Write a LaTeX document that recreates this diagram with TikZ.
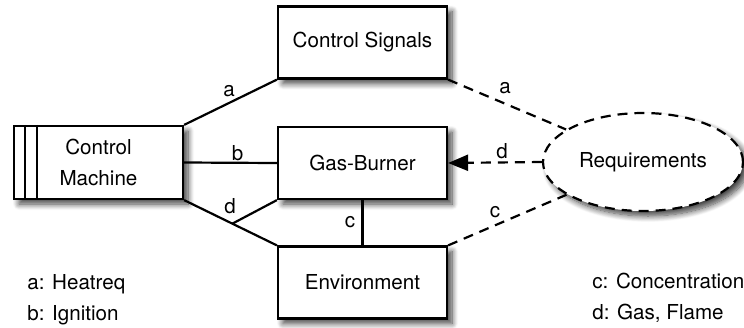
\documentclass[tikz,border=0pt]{standalone}
\usepackage{fontspec}
\setmainfont{TeX Gyre Heros}
\usetikzlibrary{shapes.geometric,shadows,shadows.blur,calc,arrows.meta}
\begin{document}
\begin{tikzpicture}[x=0.5pt,y=-0.5pt,
  txt/.style={font=\fontsize{10.3}{15.5}\selectfont},
  shad/.style={blur shadow={shadow xshift=2.5pt,shadow yshift=-2.5pt,shadow blur radius=3pt,shadow blur steps=10,shadow opacity=75}},
  box/.style={draw,line width=1.1pt,fill=white,minimum width=84.5pt,minimum height=36pt,inner sep=0pt,txt,shad},
  req/.style={ellipse,draw,dash pattern=on 5pt off 3.5pt,line width=1.1pt,fill=white,minimum width=100pt,minimum height=49pt,inner sep=0pt,txt,shad},
  conn/.style={line width=1.1pt},
  dconn/.style={line width=1.1pt,dash pattern=on 5pt off 3.5pt},
  lab/.style={inner sep=0pt,font=\fontsize{10.3}{12}\selectfont},
  leg/.style={inner sep=0pt,anchor=base west,font=\fontsize{10.3}{12}\selectfont}
]
\useasboundingbox (0,0) rectangle (744,327);

\node[box] (CS) at (362.5,42.5) {Control Signals};
\node[box] (GB) at (362.5,163) {Gas-Burner};
\node[box] (Env) at (362.5,282.5) {Environment};
\node[box,minimum height=36.5pt,align=center] (CM) at (98.5,162.5) {Control\\Machine};
\draw[conn] ($(CM.north west)+(12,0)$) coordinate (s1t) -- ($(CM.south west)+(12,0)$) coordinate (s1b);
\draw[conn] ($(CM.north west)+(24,0)$) coordinate (s2t) -- ($(CM.south west)+(24,0)$) coordinate (s2b);
\node[req] (Req) at (643,162) {Requirements};

% solid connectors
\draw[conn] (CM.north east) -- (CS.south west);
\draw[conn] (CM.east) -- (GB.west);
\coordinate (J) at ($(CM.south east)!0.52!(Env.north west)$);
\draw[conn] (CM.south east) -- (J) -- (Env.north west);
\draw[conn] (J) -- (GB.south west);
\draw[conn] (GB.south) -- (Env.north);

% dashed connectors
\draw[dconn] (CS.south east) -- (Req);
\draw[dconn,-{Triangle[length=10pt,width=8pt]}] (Req.west) -- (GB.east);
\draw[dconn] (Env.north east) -- (Req);

% labels
\node[lab] (la) at (229,91) {a};
\node[lab] (lb) at (237.5,153.5) {b};
\node[lab] (ld) at (230,206.5) {d};
\node[lab] (lc) at (350,222.5) {c};
\node[lab] (lda) at (505,88) {a};
\node[lab] (ldd) at (502,151.5) {d};
\node[lab] (ldc) at (495,212.5) {c};

% legend
\node[leg] (La) at (27,289) {a: Heatreq};
\node[leg] (Lb) at (27,320) {b: Ignition};
\node[leg] (Lc) at (592,288) {c: Concentration};
\node[leg] (Ld) at (592,319) {d: Gas, Flame};
\end{tikzpicture}
\end{document}
